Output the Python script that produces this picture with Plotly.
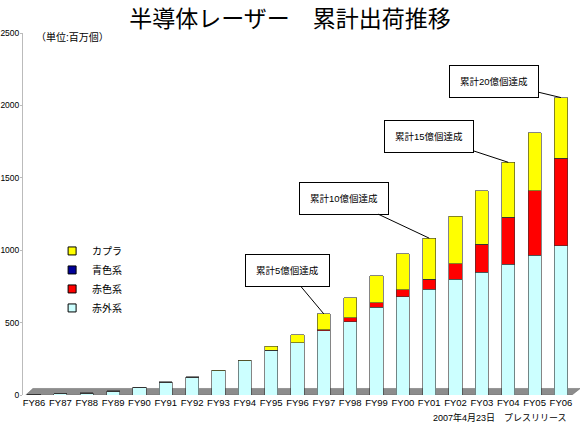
import plotly.graph_objects as go

# 年度
years = ["FY86", "FY87", "FY88", "FY89", "FY90", "FY91", "FY92", "FY93", "FY94", "FY95", "FY96",
         "FY97", "FY98", "FY99", "FY00", "FY01", "FY02", "FY03", "FY04", "FY05", "FY06"]

# 累計出荷 (百万個)
infrared = [4, 7, 13, 27, 52, 88, 123, 168, 235, 310, 360, 445, 505, 605, 680, 730, 800, 848, 903, 965, 1030]
red = [0, 0, 0, 0, 0, 0, 0, 0, 0, 0, 0, 5, 30, 32, 47, 70, 105, 192, 324, 444, 604]
blue = [0] * 21
capra = [2, 2, 2, 3, 3, 3, 3, 3, 5, 25, 55, 110, 135, 185, 247, 283, 330, 371, 380, 402, 420]

totals = [a + b + c + d for a, b, c, d in zip(infrared, red, blue, capra)]

font_family = "Liberation Sans, Noto Sans CJK JP"

fig = go.Figure()

series = [
    ("赤外系", infrared, "#CCFFFF"),
    ("赤色系", red, "#FF0000"),
    ("青色系", blue, "#000099"),
    ("カプラ", capra, "#FFFF00"),
]
for name, vals, color in series:
    fig.add_trace(go.Bar(
        x=years, y=vals, name=name, showlegend=False,
        marker=dict(color=color, line=dict(color="#333333", width=0.6)),
        width=0.5,
    ))

# 凡例 (小さい四角)
for name, vals, color in series:
    fig.add_trace(go.Scatter(
        x=[None], y=[None], mode="markers", name=name,
        marker=dict(symbol="square", size=8, color=color, line=dict(color="#000000", width=1)),
    ))

# 吹き出し
callouts = [
    ("累計5億個達成", "FY97", -36, -43),
    ("累計10億個達成", "FY01", -85, -40),
    ("累計15億個達成", "FY04", -79, -26),
    ("累計20億個達成", "FY06", -67, -16),
]
for text, yr, ax, ay in callouts:
    idx = years.index(yr)
    fig.add_annotation(
        x=yr, y=totals[idx], text=text, ax=ax, ay=ay,
        showarrow=True, arrowhead=0, arrowwidth=1, arrowcolor="#000000",
        bordercolor="#000000", borderwidth=1, borderpad=10, bgcolor="#FFFFFF",
        font=dict(size=9.5, color="#000000"),
    )

# 床
fig.add_shape(
    type="path", xref="paper", yref="y", layer="below",
    path="M 0.005,0 L 1.0,0 L 1.015,45 L 0.018,45 Z",
    fillcolor="#8C8C8C", line=dict(color="#666666", width=0.5),
)

fig.add_annotation(
    text="（単位:百万個）", xref="paper", yref="paper", x=0.02, y=0.99,
    xanchor="left", yanchor="middle", showarrow=False, font=dict(size=10, color="#000000"),
)
fig.add_annotation(
    text="2007年4月23日　プレスリリース", xref="paper", yref="paper", x=0.995, y=-0.061,
    xanchor="right", yanchor="middle", showarrow=False, font=dict(size=9, color="#000000"),
)

fig.update_layout(
    width=580, height=427,
    margin=dict(l=23, r=8, t=33, b=32),
    barmode="stack",
    paper_bgcolor="white", plot_bgcolor="white",
    font=dict(family=font_family, size=9, color="#000000"),
    title=dict(text="半導体レーザー　累計出荷推移", x=0.5, xanchor="center",
               y=0.955, yanchor="middle", font=dict(size=23, color="#000000")),
    legend=dict(traceorder="reversed", x=0.053, y=0.438, xanchor="left", yanchor="top",
                font=dict(size=10), bgcolor="rgba(0,0,0,0)", itemwidth=30,
                tracegroupgap=0),
    xaxis=dict(range=[-0.42, 20.42], showline=False, showgrid=False, ticks="",
               tickfont=dict(size=9.5), automargin=False),
    yaxis=dict(range=[0, 2500], dtick=500, showgrid=False, showline=True,
               linecolor="#BBBBBB", linewidth=1, ticks="outside", ticklen=2,
               tickcolor="#BBBBBB", zeroline=False, tickfont=dict(size=8.5),
               ticklabelstandoff=-1, automargin=False),
)

fig.write_html("out.html", config={"displayModeBar": False},
               post_script="document.body.style.margin='0';document.body.style.overflow='hidden';")
